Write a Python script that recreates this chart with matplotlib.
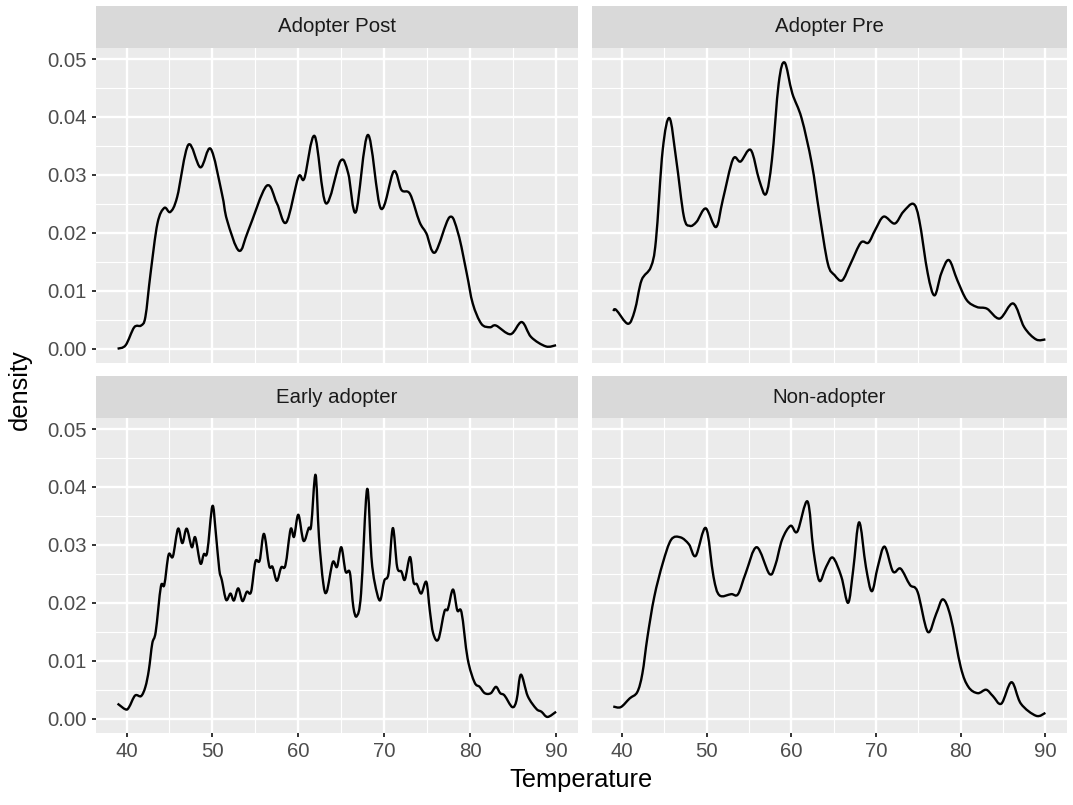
"""
Temperature density by adopter group, drawn as a 2x2 facet grid
in the grey ggplot style.
"""

import matplotlib
matplotlib.use('Agg')
import matplotlib.pyplot as plt
from matplotlib.patches import Rectangle, PathPatch
from matplotlib.path import Path
import numpy as np

matplotlib.rcParams.update({
    'font.family': ['Liberation Sans', 'DejaVu Sans'],
    'font.size': 14.7,
})

# Density curves, one (temperature, density) trace per group
post_x = [38.96, 39.9, 40.9, 41.7, 42.2, 42.8, 43.6, 44.4, 45.1, 45.9, 47.2, 48.6,
          49.8, 51.1, 51.7, 53.1, 54.2, 56.3, 57.5, 58.6, 60.0, 60.7, 61.9, 63.2,
          64.9, 65.8, 66.7, 68.1, 69.6, 71.1, 72.0, 73.0, 74.1, 74.9, 75.9, 77.6,
          78.6, 79.6, 80.3, 81.3, 82.3, 83.0, 84.7, 86.0, 87.1, 88.8, 90.0]
post_y = [0.0000, 0.0006, 0.0037, 0.0040, 0.0055, 0.0130, 0.0216, 0.0243, 0.0236,
          0.0262, 0.0352, 0.0313, 0.0345, 0.0268, 0.0222, 0.0169, 0.0205, 0.0281,
          0.0251, 0.0218, 0.0296, 0.0294, 0.0367, 0.0251, 0.0324, 0.0303, 0.0236,
          0.0369, 0.0242, 0.0306, 0.0274, 0.0267, 0.0219, 0.0199, 0.0166, 0.0227,
          0.0199, 0.0130, 0.0078, 0.0043, 0.0037, 0.0040, 0.0025, 0.0046, 0.0020,
          0.0004, 0.0006]

pre_x = [38.96, 39.3, 40.7, 41.5, 42.3, 43.4, 44.0, 44.8, 45.6, 46.4, 47.3, 48.0,
         48.8, 49.9, 51.1, 51.9, 53.1, 54.0, 55.2, 56.2, 57.0, 57.7, 58.5, 59.2,
         60.1, 61.2, 62.4, 63.3, 64.3, 65.1, 66.0, 67.0, 68.2, 69.1, 69.9, 70.9,
         72.2, 73.2, 74.4, 75.1, 76.1, 76.9, 77.7, 78.6, 79.6, 80.7, 81.9, 83.1,
         84.6, 86.2, 87.5, 88.9, 90.0]
pre_y = [0.0065, 0.0067, 0.0043, 0.0066, 0.0118, 0.0141, 0.0187, 0.0343, 0.0398,
         0.0326, 0.0228, 0.0212, 0.0219, 0.0242, 0.0210, 0.0257, 0.0327, 0.0323,
         0.0343, 0.0291, 0.0267, 0.0326, 0.0458, 0.0494, 0.0441, 0.0398, 0.0320,
         0.0234, 0.0147, 0.0127, 0.0118, 0.0147, 0.0183, 0.0183, 0.0205, 0.0228,
         0.0216, 0.0236, 0.0250, 0.0222, 0.0130, 0.0092, 0.0130, 0.0153, 0.0118,
         0.0084, 0.0072, 0.0069, 0.0052, 0.0078, 0.0037, 0.0016, 0.0016]

early_x = [38.96, 39.9, 40.3, 41.0, 41.7, 42.2, 42.6, 43.0, 43.4, 44.0, 44.4, 44.9,
           45.4, 46.0, 46.5, 47.0, 47.6, 48.0, 48.6, 49.0, 49.4, 50.0, 50.4, 50.8,
           51.1, 51.6, 52.1, 52.5, 53.0, 53.5, 54.0, 54.5, 55.0, 55.5, 56.0, 56.6,
           57.0, 57.5, 58.0, 58.5, 59.1, 59.5, 60.0, 60.6, 61.2, 61.5, 62.0, 62.4,
           62.9, 63.3, 64.0, 64.5, 65.0, 65.5, 66.0, 66.4, 66.8, 67.3, 68.0, 68.5,
           68.9, 69.5, 70.0, 70.5, 71.0, 71.5, 72.0, 72.4, 73.0, 73.4, 73.8, 74.3,
           74.9, 75.3, 75.7, 76.3, 77.0, 77.4, 78.0, 78.5, 79.0, 79.7, 80.5, 81.1,
           81.7, 82.4, 83.0, 83.5, 84.0, 84.9, 85.4, 85.9, 86.7, 87.7, 88.3, 89.0,
           90.0]
early_y = [0.0026, 0.0016, 0.0020, 0.0040, 0.0039, 0.0055, 0.0084, 0.0130, 0.0150,
           0.0228, 0.0231, 0.0283, 0.0280, 0.0328, 0.0303, 0.0328, 0.0296, 0.0313,
           0.0268, 0.0284, 0.0288, 0.0367, 0.0320, 0.0257, 0.0239, 0.0205, 0.0216,
           0.0204, 0.0225, 0.0203, 0.0219, 0.0219, 0.0271, 0.0273, 0.0319, 0.0264,
           0.0262, 0.0238, 0.0261, 0.0265, 0.0327, 0.0314, 0.0352, 0.0307, 0.0329,
           0.0334, 0.0421, 0.0314, 0.0234, 0.0219, 0.0270, 0.0262, 0.0296, 0.0254,
           0.0252, 0.0193, 0.0177, 0.0216, 0.0396, 0.0280, 0.0234, 0.0204, 0.0238,
           0.0251, 0.0329, 0.0262, 0.0254, 0.0240, 0.0279, 0.0236, 0.0232, 0.0216,
           0.0236, 0.0187, 0.0147, 0.0137, 0.0185, 0.0189, 0.0223, 0.0187, 0.0183,
           0.0104, 0.0063, 0.0055, 0.0044, 0.0044, 0.0055, 0.0044, 0.0040, 0.0020,
           0.0032, 0.0076, 0.0039, 0.0017, 0.0012, 0.0003, 0.0012]

non_x = [38.96, 39.85, 40.9, 41.8, 42.4, 43.0, 43.8, 44.8, 45.8, 46.9, 47.9, 48.7,
         49.9, 50.8, 51.5, 52.9, 53.7, 54.6, 55.9, 57.4, 58.1, 58.9, 59.9, 60.7,
         61.9, 62.6, 63.3, 64.1, 64.9, 65.9, 66.7, 67.3, 68.0, 68.8, 69.5, 70.2,
         71.0, 72.0, 72.9, 74.0, 74.9, 76.1, 77.1, 77.9, 78.8, 80.0, 80.9, 82.0,
         83.0, 83.8, 84.8, 86.0, 87.1, 88.9, 90.0]
non_y = [0.0021, 0.0020, 0.0035, 0.0046, 0.0078, 0.0141, 0.0210, 0.0268, 0.0309,
         0.0313, 0.0301, 0.0281, 0.0329, 0.0245, 0.0213, 0.0215, 0.0215, 0.0251,
         0.0296, 0.0250, 0.0265, 0.0309, 0.0333, 0.0323, 0.0375, 0.0291, 0.0238,
         0.0262, 0.0278, 0.0245, 0.0200, 0.0257, 0.0339, 0.0262, 0.0220, 0.0262,
         0.0297, 0.0254, 0.0259, 0.0231, 0.0219, 0.0150, 0.0181, 0.0206, 0.0176,
         0.0089, 0.0055, 0.0044, 0.0050, 0.0039, 0.0026, 0.0063, 0.0026, 0.0005,
         0.0010]

panel_titles = ['Adopter Post', 'Adopter Pre', 'Early adopter', 'Non-adopter']
panel_data = [(post_x, post_y), (pre_x, pre_y), (early_x, early_y), (non_x, non_y)]

x_ticks = [40, 50, 60, 70, 80, 90]
y_ticks = [0.00, 0.01, 0.02, 0.03, 0.04, 0.05]


def smooth_path(xs, ys):
    """Bezier path through every point (Catmull-Rom control handles)."""
    p = np.column_stack([xs, ys])
    p_ext = np.vstack([p[0], p, p[-1]])
    verts = [p[0]]
    codes = [Path.MOVETO]
    for i in range(1, len(p_ext) - 2):
        p0, p1, p2, p3 = p_ext[i - 1], p_ext[i], p_ext[i + 1], p_ext[i + 2]
        verts += [p1 + (p2 - p0) / 6, p2 - (p3 - p1) / 6, p2]
        codes += [Path.CURVE4] * 3
    return Path(verts, codes)


W, H = 1073, 805
fig = plt.figure(figsize=(W / 100, H / 100), dpi=100)

# panel boxes in pixels: (left, right), (top, bottom)
cols = [(96, 578), (592, 1067)]
rows = [(48, 363), (418, 733)]
strip_h = 42

for idx, (title, (xs, ys)) in enumerate(zip(panel_titles, panel_data)):
    r, c = divmod(idx, 2)
    x0, x1 = cols[c]
    y0, y1 = rows[r]
    ax = fig.add_axes([x0 / W, 1 - y1 / H, (x1 - x0) / W, (y1 - y0) / H])
    ax.set_facecolor('#EBEBEB')
    for s in ax.spines.values():
        s.set_visible(False)

    ax.set_xlim(36.45, 92.55)
    ax.set_ylim(-0.00247, 0.0519)
    ax.set_xticks(x_ticks)
    ax.set_yticks(y_ticks)
    ax.set_xticks(np.arange(45, 90, 10), minor=True)
    ax.set_yticks(np.arange(0.005, 0.05, 0.01), minor=True)
    ax.grid(True, which='major', color='white', linewidth=1.7)
    ax.grid(True, which='minor', color='white', linewidth=0.85)
    ax.set_axisbelow(True)
    ax.tick_params(which='minor', length=0)
    ax.tick_params(which='major', length=3.2, width=1.4, color='#333333',
                   labelcolor='#4D4D4D', labelsize=14.7, pad=3.2)

    if r == 0:
        ax.tick_params(axis='x', which='major', length=0, labelbottom=False)
    if c == 1:
        ax.tick_params(axis='y', which='major', length=0, labelleft=False)
    else:
        ax.set_yticklabels([f'{v:.2f}' for v in y_ticks])

    ax.add_patch(PathPatch(smooth_path(xs, ys), facecolor='none', edgecolor='black',
                           linewidth=1.7, joinstyle='round', capstyle='butt'))

    # facet strip
    fig.patches.append(Rectangle((x0 / W, 1 - y0 / H), (x1 - x0) / W, strip_h / H,
                                 transform=fig.transFigure, facecolor='#D9D9D9',
                                 edgecolor='none'))
    fig.text((x0 + x1) / 2 / W, 1 - (y0 - strip_h / 2) / H, title,
             ha='center', va='center', color='#1A1A1A', fontsize=14.7)

fig.text(581 / W, 1 - 780 / H, 'Temperature', ha='center', va='center', fontsize=18.4)
fig.text(20 / W, 1 - 390 / H, 'density', ha='center', va='center',
         rotation=90, fontsize=18.4)

fig.savefig('out.png', dpi=100)
plt.close(fig)
